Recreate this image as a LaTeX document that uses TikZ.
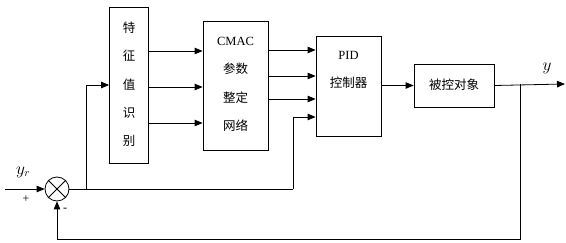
\documentclass[tikz,border=0pt]{standalone}
\usepackage{fontspec}
\setmainfont{Liberation Serif}
\newfontfamily\cjk{Noto Sans CJK SC}
\usetikzlibrary{arrows.meta,shapes.misc}
\tikzset{
  blk/.style={draw, line width=0.8pt, inner sep=0pt},
  lbl/.style={font=\cjk\fontsize{12.5}{28.3}\selectfont, align=center, inner sep=0pt},
  var/.style={font=\fontsize{16}{16}\selectfont, inner sep=0pt},
  sig/.style={line width=0.8pt, -{Triangle[length=8pt,width=6.5pt]}},
  wire/.style={line width=0.8pt}
}
\begin{document}
\begin{tikzpicture}[x=1pt, y=-1pt, line join=miter]
			\useasboundingbox (0,0) rectangle (566,243);
			% boxes
			\node[blk, minimum width=39pt, minimum height=156pt] (feat) at (129,85.5) {};
			\node[blk, minimum width=65pt, minimum height=129pt] (cmac) at (235.5,85.5) {};
			\node[blk, minimum width=65pt, minimum height=100pt] (pid) at (348.5,86) {};
			\node[blk, minimum width=80pt, minimum height=43pt] (plant) at (454,85.5) {};
			\node[draw, line width=0.8pt, cross out, minimum size=17pt, inner sep=0pt] at (57,189) {};
			\node[draw, line width=0.8pt, circle, minimum size=24pt, inner sep=0pt] (sum) at (57,189) {};
			% texts
			\node[lbl] (feattxt) at (129,84.5) {特\\征\\值\\识\\别};
			\node[lbl] (cmactxt) at (235.5,84.5) {{\rmfamily CMAC}\\参数\\整定\\网络};
			\node[lbl] (pidtxt) at (348.5,70) {{\rmfamily PID}\\控制器};
			\node[lbl] (planttxt) at (454,84.5) {被控对象};
			\node[var] (ylab) at (547,68) {$y$};
			\node[var] (yrlab) at (23,172) {$y_r$};
			\node[font=\large] (plus) at (26,199) {+};
			\node[font=\large] (minus) at (65,210) {-};
			% points
			\coordinate (in) at (5,189);
			\coordinate (out) at (565,84);
			\coordinate (br) at (520,84);
			\coordinate (eb) at (86,189);
			\coordinate (ec) at (293,189);
			% signals
			\draw[sig] (in) -- (sum.west);
			\draw[wire] (sum.east) -- (ec);
			\draw[sig] (eb) |- (feat.west |- 0,85);
			\draw[sig] (ec) |- (pid.west |- 0,117);
			\foreach \k in {51,87,123}
				\draw[sig] (feat.east |- 0,\k) -- (cmac.west |- 0,\k);
			\foreach \k in {50,76,99}
				\draw[sig] (cmac.east |- 0,\k) -- (pid.west |- 0,\k);
			\draw[sig] (pid.east |- plant.west) -- (plant.west);
			\draw[sig] (plant.east) -- (out);
			\draw[sig] (br) -- (520,239) -| (sum.south);
		\end{tikzpicture}
\end{document}
